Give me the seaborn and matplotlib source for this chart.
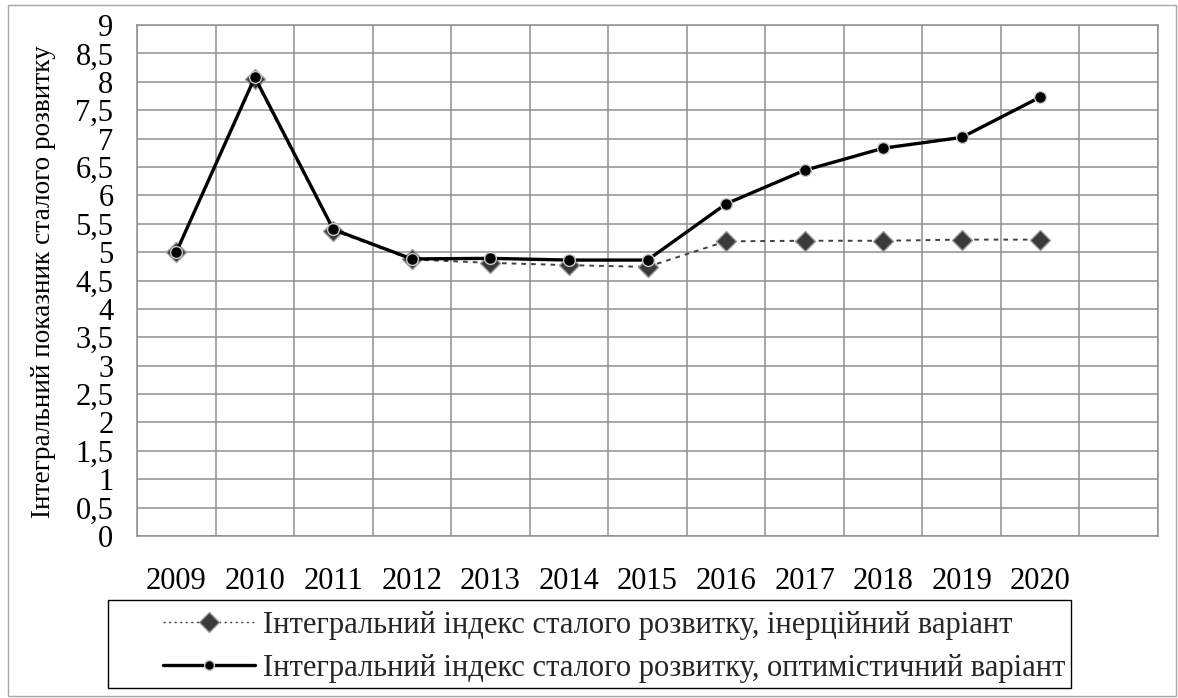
import numpy as np
import pandas as pd
import seaborn as sns
import matplotlib
matplotlib.use("Agg")
import matplotlib.pyplot as plt
from matplotlib.lines import Line2D
from matplotlib.patches import Rectangle
from matplotlib.ticker import FuncFormatter

years = ["2009", "2010", "2011", "2012", "2013", "2014", "2015",
         "2016", "2017", "2018", "2019", "2020"]
inertial = [5.00, 8.05, 5.38, 4.87, 4.81, 4.77, 4.74, 5.19, 5.20, 5.20, 5.22, 5.22]
optimistic = [5.00, 8.08, 5.40, 4.88, 4.89, 4.86, 4.86, 5.85, 6.44, 6.83, 7.02, 7.73]
y_ticks = np.arange(0, 9.01, 0.5)

label_inertial = "Інтегральний індекс сталого розвитку, інерційний варіант"
label_optimistic = "Інтегральний індекс сталого розвитку, оптимістичний варіант"
y_title = "Інтегральний показник сталого розвитку"

sns.set_theme(style="white")
plt.rcParams["font.family"] = ["Liberation Serif", "DejaVu Serif"]

W, H = 1178, 698
fig = plt.figure(figsize=(W / 100, H / 100), dpi=100)
fig.patch.set_facecolor("white")


def px_box(x0, y0, x1, y1):
    return [x0 / W, 1 - y1 / H, (x1 - x0) / W, (y1 - y0) / H]


ax = fig.add_axes(px_box(137, 25, 1158, 536))

df = pd.DataFrame({
    "pos": np.arange(len(years)),
    "inertial": inertial,
    "optimistic": optimistic,
})

grid_color = "#8f8f8f"

sns.lineplot(data=df, x="pos", y="inertial", ax=ax, color="#404040",
             linestyle=(0, (2.4, 2.6)), linewidth=1.4, marker="D",
             markersize=10, markerfacecolor="#3a3a3a",
             markeredgecolor="#9a9a9a", markeredgewidth=1.0, zorder=3)
sns.lineplot(data=df, x="pos", y="optimistic", ax=ax, color="black",
             linewidth=2.4, marker="o", markersize=8.5,
             markerfacecolor="black", markeredgecolor="#c8c8c8",
             markeredgewidth=1.0, zorder=4)

ax.set_xlim(-0.5, len(years) + 0.5)
ax.set_ylim(0, 9)
ax.set_xticks(np.arange(len(years)))
ax.set_xticklabels(years)
ax.set_xticks(np.arange(-0.5, len(years) + 1), minor=True)
ax.set_yticks(y_ticks)
ax.yaxis.set_major_formatter(
    FuncFormatter(lambda v, _: f"{v:g}".replace(".", ",")))

ax.grid(False)
ax.grid(True, axis="y", which="major", color=grid_color, linewidth=1.1)
ax.grid(True, axis="x", which="minor", color=grid_color, linewidth=1.1)
ax.set_axisbelow(True)
for s in ax.spines.values():
    s.set_color(grid_color)
    s.set_linewidth(1.1)

ax.tick_params(axis="both", which="both", length=0)
ax.tick_params(axis="x", labelsize=22, pad=22, colors="black")
ax.tick_params(axis="y", labelsize=22, pad=17, colors="black")
ax.set_xlabel("")
ax.set_ylabel("")

# Rotated axis title along the left edge
fig.text(43 / W, 1 - 518 / H, y_title, rotation=90, rotation_mode="anchor",
         ha="left", va="center", fontsize=19.6, color="black")

# Outer chart frame
fig.patches.append(Rectangle((8 / W, 1 - 696 / H), 1168 / W, 691 / H,
                             transform=fig.transFigure, fill=False,
                             edgecolor="#a8a8a8", linewidth=1.0))
# Legend frame
fig.patches.append(Rectangle((108 / W, 1 - 688 / H), 963 / W, 88 / H,
                             transform=fig.transFigure, fill=False,
                             edgecolor="black", linewidth=1.0, zorder=5))

handles = [
    Line2D([], [], color="#404040", linestyle=(0, (1.5, 2.5)), linewidth=1.0,
           marker="D", markersize=10, markerfacecolor="#3a3a3a",
           markeredgecolor="#9a9a9a", markeredgewidth=1.0),
    Line2D([], [], color="black", linewidth=2.4, marker="o", markersize=7,
           markerfacecolor="black", markeredgecolor="#c8c8c8",
           markeredgewidth=1.0),
]
fig.legend(handles, [label_inertial, label_optimistic], loc="upper left",
           bbox_to_anchor=(163 / W, 1 - 611 / H), frameon=False, fontsize=22,
           handlelength=3.0, handletextpad=0.26, labelspacing=0.46,
           borderpad=0, borderaxespad=0, numpoints=1)

fig.savefig("out.png", dpi=100, facecolor="white")
